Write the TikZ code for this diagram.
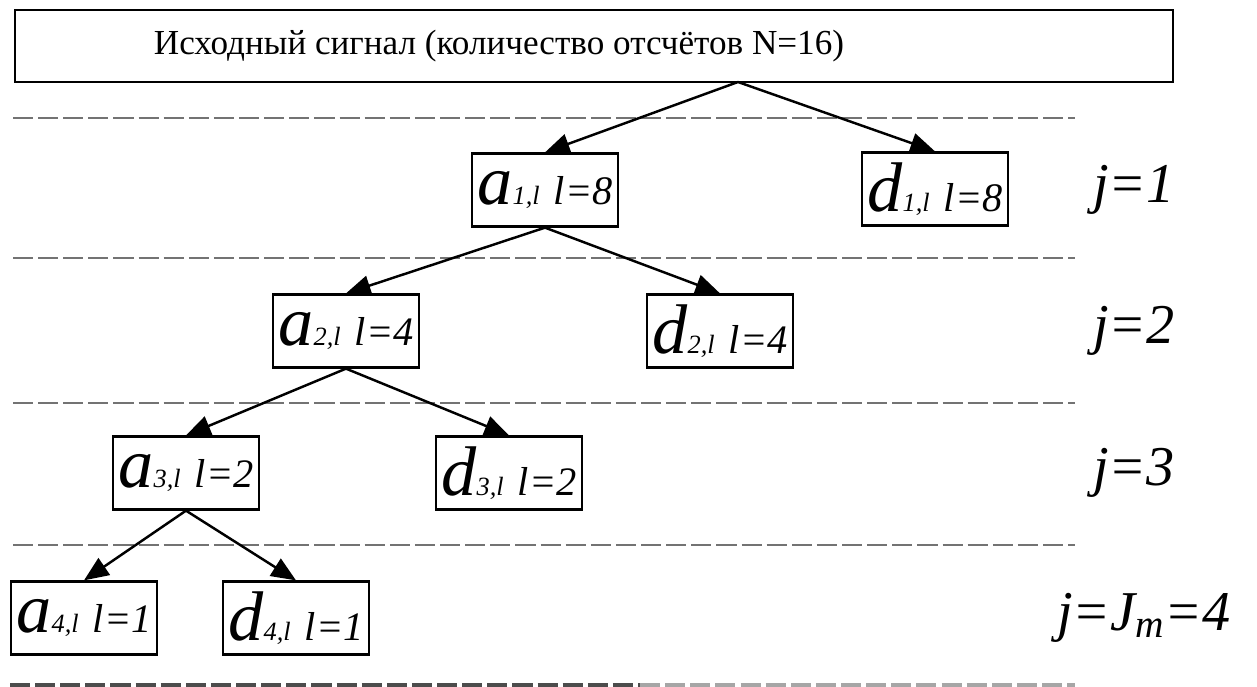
\documentclass[tikz,border=0pt]{standalone}
\usepackage{fontspec}
\setmainfont{Liberation Serif}
\usetikzlibrary{arrows.meta}
\newcommand{\coef}[3]{\itshape{\fontsize{40}{40}\selectfont #1}{\fontsize{15}{15}\selectfont #2}\hspace{8pt}{\fontsize{23}{23}\selectfont l=#3}}
\tikzset{
  coefbox/.style={draw, line width=1.3pt, minimum width=2.92cm, minimum height=1.46cm, inner sep=0pt},
  lvl/.style={font=\itshape\fontsize{32}{32}\selectfont},
  conn/.style={line width=1.4pt, -{Triangle[length=14pt,width=11.5pt]}},
  sep/.style={draw=black!55, line width=1pt, dash pattern=on 11.4pt off 2.9pt}
}
\begin{document}
\begin{tikzpicture}[x=0.02cm,y=-0.02cm]
\useasboundingbox (0,0) rectangle (1257,686);
% source box
\node[draw, line width=1.3pt, minimum width=1158*0.02cm, minimum height=72*0.02cm, inner sep=0pt] (src) at (594,46) {};
\node[font=\fontsize{20}{20}\selectfont] (srctxt) at (499,46) {Исходный сигнал (количество отсчётов N=16)};
\coordinate (srco) at (738,82);
% separators
\coordinate (s1a) at (13,118); \coordinate (s1b) at (1075,118);
\coordinate (s2a) at (13,258); \coordinate (s2b) at (1075,258);
\coordinate (s3a) at (13,403); \coordinate (s3b) at (1075,403);
\coordinate (s4a) at (13,545); \coordinate (s4b) at (1075,545);
\coordinate (s5a) at (10,685); \coordinate (s5m) at (640,685); \coordinate (s5b) at (1075,685);
\draw[sep] (s1a) -- (s1b);
\draw[sep] (s2a) -- (s2b);
\draw[sep] (s3a) -- (s3b);
\draw[sep] (s4a) -- (s4b);
\draw[draw=black!70, line width=2.6pt, dash pattern=on 11.4pt off 2.9pt] (s5a) -- (s5m);
\draw[draw=black!35, line width=2.6pt, dash pattern=on 11.4pt off 2.9pt] (s5m) -- (s5b);
% nodes
\node[coefbox] (a1) at (545,190) {\coef{a}{1,l}{8}};
\node[coefbox] (d1) at (935,189) {\coef{d}{1,l}{8}};
\node[coefbox] (a2) at (346,331) {\coef{a}{2,l}{4}};
\node[coefbox] (d2) at (720,331) {\coef{d}{2,l}{4}};
\node[coefbox] (a3) at (186,473) {\coef{a}{3,l}{2}};
\node[coefbox] (d3) at (509,473) {\coef{d}{3,l}{2}};
\node[coefbox] (a4) at (84,618) {\coef{a}{4,l}{1}};
\node[coefbox] (d4) at (296,618) {\coef{d}{4,l}{1}};
% level labels
\node[lvl] (j1) at (1134,190) {j=1};
\node[lvl] (j2) at (1134,331) {j=2};
\node[lvl] (j3) at (1134,473) {j=3};
\node[lvl] (j4) at (1144,618) {j=J\textsubscript{m}=4};
% connectors
\draw[conn] (srco) -- (a1.north);
\draw[conn] (srco) -- (d1.north);
\draw[conn] (a1.south) -- (a2.north);
\draw[conn] (a1.south) -- (d2.north);
\draw[conn] (a2.south) -- (a3.north);
\draw[conn] (a2.south) -- (d3.north);
\draw[conn] (a3.south) -- (a4.north);
\draw[conn] (a3.south) -- (d4.north);
\end{tikzpicture}
\end{document}
